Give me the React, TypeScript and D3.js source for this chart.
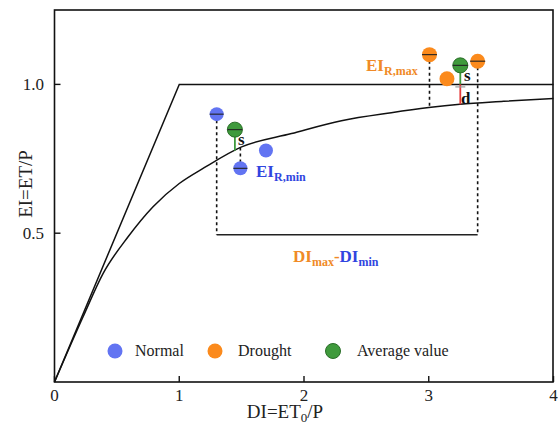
import React from "react";
import * as d3 from "d3";

// ---- data ----
const xTicks = [0, 1, 2, 3, 4];
const yTicks = [0.5, 1.0];
const yTickLabels = ["0.5", "1.0"];

const curveDI = [0, 0.23, 0.39, 0.59, 0.79, 1.0, 1.2, 1.5, 1.9, 2.3, 2.7, 3.0, 3.25, 3.6, 4.0];
const curveEI = [0, 0.22, 0.365, 0.488, 0.589, 0.667, 0.72, 0.79, 0.835, 0.878, 0.905, 0.922, 0.933, 0.943, 0.953];

const limitDI = [0, 1, 4];
const limitEI = [0, 1, 1];

const normalDI = [1.3, 1.49, 1.695];
const normalEI = [0.9, 0.718, 0.778];
const droughtDI = [3.006, 3.146, 3.392];
const droughtEI = [1.1, 1.019, 1.078];
const avgDI = [1.446, 3.253];
const avgEI = [0.848, 1.064];

const bracketEI = 0.495;

const legendLabels = ["Normal", "Drought", "Average value"];

const W = 558;
const H = 426;
const FONT = "'Liberation Serif', 'Times New Roman', serif";
const BLUE = "#6274f2";
const ORANGE = "#fb8a1c";
const GREEN = "#3f9a3c";
const GREEN_DARK = "#2a6e28";
const BLUE_TXT = "#3045e0";
const ORANGE_TXT = "#f08a26";

function curveAt(v: number) {
  const i = d3.bisectLeft(curveDI, v);
  if (i <= 0) return curveEI[0];
  if (i >= curveDI.length) return curveEI[curveEI.length - 1];
  const t = (v - curveDI[i - 1]) / (curveDI[i] - curveDI[i - 1]);
  return curveEI[i - 1] + t * (curveEI[i] - curveEI[i - 1]);
}

export default function App() {
  const x = d3.scaleLinear().domain([0, 4]).range([54.5, 553.5]);
  const y = d3.scaleLinear().domain([0, 1.25]).range([382, 10]);

  const line = d3
    .line<[number, number]>()
    .x((d) => x(d[0]))
    .y((d) => y(d[1]));
  const curveLine = d3
    .line<[number, number]>()
    .x((d) => x(d[0]))
    .y((d) => y(d[1]))
    .curve(d3.curveMonotoneX);

  const curvePts = curveDI.map((d, i) => [d, curveEI[i]] as [number, number]);
  const limitPts = limitDI.map((d, i) => [d, limitEI[i]] as [number, number]);

  const dot = (cx: number, cy: number, fill: string, r: number, bar: boolean, stroke?: string, key?: string) => (
    <g key={key}>
      <circle cx={cx} cy={cy} r={r} fill={fill} stroke={stroke || "none"} strokeWidth={1} />
      {bar && <line x1={cx - r} x2={cx + r} y1={cy} y2={cy} stroke="#222" strokeWidth={1.1} />}
    </g>
  );

  const dotted = (x0: number, y0: number, y1: number, key: string) => (
    <line key={key} x1={x(x0)} x2={x(x0)} y1={y(y0)} y2={y(y1)} stroke="#111" strokeWidth={1.6} strokeDasharray="3,3" />
  );

  return (
    <svg width={W} height={H} style={{ position: "absolute", left: 0, top: 0, background: "#fff" }} fontFamily={FONT}>
      <rect x={0} y={0} width={W} height={H} fill="#fff" />
      {/* frame */}
      <rect x={x(0)} y={y(1.25)} width={x(4) - x(0) - 0.5} height={y(0) - y(1.25)} fill="none" stroke="#111" strokeWidth={1.6} />

      {/* ticks */}
      {xTicks.map((t) => (
        <g key={"xt" + t}>
          <line x1={x(t)} x2={x(t)} y1={y(0)} y2={y(0) - 6} stroke="#111" strokeWidth={1.4} />
          <text x={x(t)} y={401} fontSize={17} textAnchor="middle" fill="#222">{t}</text>
        </g>
      ))}
      {yTicks.map((t, i) => (
        <g key={"yt" + t}>
          <line x1={x(0)} x2={x(0) + 6} y1={y(t)} y2={y(t)} stroke="#111" strokeWidth={1.4} />
          <text x={44} y={y(t) + 6} fontSize={17} textAnchor="end" fill="#222">{yTickLabels[i]}</text>
        </g>
      ))}

      {/* axis titles */}
      <text x={285} y={418} fontSize={19} textAnchor="middle" fill="#222">
        DI=ET<tspan fontSize={13} dy={4}>0</tspan><tspan dy={-4}>/P</tspan>
      </text>
      <text transform={`translate(32,184) rotate(-90)`} fontSize={19} textAnchor="middle" fill="#222">EI=ET/P</text>

      {/* limits and curve */}
      <path d={line(limitPts) || ""} fill="none" stroke="#111" strokeWidth={1.5} />
      <path d={curveLine(curvePts) || ""} fill="none" stroke="#111" strokeWidth={1.5} />

      {/* bracket */}
      <line x1={x(normalDI[0])} x2={x(droughtDI[2])} y1={y(bracketEI)} y2={y(bracketEI)} stroke="#222" strokeWidth={1.5} />
      {dotted(normalDI[0], normalEI[0], bracketEI, "d1")}
      {dotted(droughtDI[2], droughtEI[2], bracketEI, "d2")}
      {dotted(normalDI[1], curveAt(normalDI[1]), normalEI[1], "d3")}
      {dotted(droughtDI[0], droughtEI[0], curveAt(droughtDI[0]), "d4")}

      {/* s / d segments */}
      <line x1={x(avgDI[0])} x2={x(avgDI[0])} y1={y(avgEI[0])} y2={y(curveAt(avgDI[0]))} stroke={GREEN} strokeWidth={1.8} />
      <line x1={x(avgDI[1])} x2={x(avgDI[1])} y1={y(avgEI[1])} y2={y(1)} stroke={GREEN} strokeWidth={1.8} />
      <line x1={x(avgDI[1])} x2={x(avgDI[1])} y1={y(1)} y2={y(curveAt(avgDI[1]))} stroke="#e53a3a" strokeWidth={1.8} />
      <line x1={x(avgDI[1]) - 5} x2={x(avgDI[1]) + 5} y1={y(1) + 2.5} y2={y(1) + 2.5} stroke="#999" strokeWidth={1.2} />

      {/* points */}
      {normalDI.map((d, i) => dot(x(d), y(normalEI[i]), BLUE, 7, i < 2, undefined, "n" + i))}
      {droughtDI.map((d, i) => dot(x(d), y(droughtEI[i]), ORANGE, 7.5, i !== 1, undefined, "o" + i))}
      {avgDI.map((d, i) => dot(x(d), y(avgEI[i]), GREEN, 7.5, true, GREEN_DARK, "g" + i))}

      {/* annotations */}
      <text x={238} y={145} fontSize={17} fontWeight="bold" fill="#111">s</text>
      <text x={464} y={81} fontSize={17} fontWeight="bold" fill="#111">s</text>
      <text x={461} y={104} fontSize={17} fontWeight="bold" fill="#111">d</text>

      <text x={256} y={177} fontSize={17} fontWeight="bold" fill={BLUE_TXT}>
        EI<tspan fontSize={12} dy={4}>R,min</tspan>
      </text>
      <text x={366} y={71} fontSize={17} fontWeight="bold" fill={ORANGE_TXT}>
        EI<tspan fontSize={12} dy={4}>R,max</tspan>
      </text>
      <text x={293} y={262} fontSize={17} fontWeight="bold" fill={ORANGE_TXT}>
        DI<tspan fontSize={12} dy={4}>max</tspan><tspan dy={-4}>-</tspan>
        <tspan fill={BLUE_TXT}>DI</tspan><tspan fill={BLUE_TXT} fontSize={12} dy={4}>min</tspan>
      </text>

      {/* legend */}
      {[BLUE, ORANGE, GREEN].map((c, i) => {
        const cx = [115, 215, 333][i];
        const tx = [135, 238, 357][i];
        return (
          <g key={"lg" + i}>
            <circle cx={cx} cy={351} r={7.5} fill={c} stroke={i === 2 ? GREEN_DARK : "none"} />
            <text x={tx} y={356} fontSize={16} fill="#222">{legendLabels[i]}</text>
          </g>
        );
      })}
    </svg>
  );
}
